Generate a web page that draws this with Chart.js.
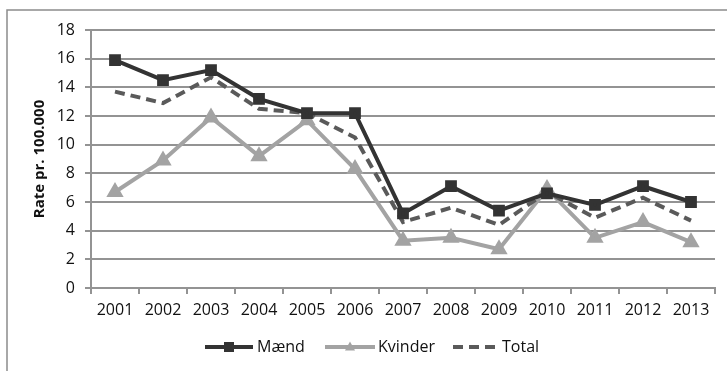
<!DOCTYPE html>
<html>
<head>
<meta charset="utf-8">
<script src="https://cdn.jsdelivr.net/npm/chart.js@4/dist/chart.umd.min.js"></script>
<style>
  html, body { margin: 0; padding: 0; background: #fff; }
  #wrap { position: relative; width: 727px; height: 371px; }
  canvas { display: block; }
</style>
</head>
<body>
<div id="wrap"><canvas id="c" width="727" height="371"></canvas></div>
<script>
// Rate per 100.000 by year
const years = ['2001','2002','2003','2004','2005','2006','2007','2008','2009','2010','2011','2012','2013'];
const maend   = [15.9, 14.5, 15.2, 13.2, 12.2, 12.2, 5.2, 7.1, 5.4, 6.6, 5.8, 7.1, 6.0];
const kvinder = [6.7, 8.9, 11.9, 9.2, 11.7, 8.3, 3.3, 3.5, 2.7, 6.9, 3.5, 4.6, 3.2];
const total   = [13.7, 12.9, 14.7, 12.5, 12.2, 10.5, 4.6, 5.6, 4.4, 6.7, 4.9, 6.3, 4.7];
const yTicks  = [0, 2, 4, 6, 8, 10, 12, 14, 16, 18];

const FONT = "'Open Sans', 'DejaVu Sans', sans-serif";
const TEXT = '#111111';
const GRID = '#939393';

// outer frame: top and left border lines
const framePlugin = {
  id: 'frame',
  beforeDraw(chart) {
    const ctx = chart.ctx;
    ctx.save();
    ctx.strokeStyle = '#8c8c8c';
    ctx.lineWidth = 1.5;
    ctx.beginPath();
    ctx.moveTo(7, 371);
    ctx.lineTo(7, 10);
    ctx.lineTo(727, 10);
    ctx.stroke();
    ctx.restore();
  }
};

// legend row: line sample with marker, then label
const legendPlugin = {
  id: 'lineLegend',
  afterDraw(chart) {
    const ctx = chart.ctx;
    const y = 347;
    const items = [
      { ds: 0, x0: 205, x1: 253, tx: 257, r: 5 },
      { ds: 1, x0: 325, x1: 375, tx: 378, r: 5 },
      { ds: 2, x0: 453, x1: 496, tx: 502, r: 0 }
    ];
    ctx.save();
    items.forEach(it => {
      const d = chart.data.datasets[it.ds];
      ctx.strokeStyle = d.borderColor;
      ctx.lineWidth = d.borderWidth;
      ctx.setLineDash(d.borderDash || []);
      ctx.beginPath();
      ctx.moveTo(it.x0, y);
      ctx.lineTo(it.x1, y);
      ctx.stroke();
      ctx.setLineDash([]);
      if (it.r > 0) {
        const cx = (it.x0 + it.x1) / 2;
        const r = it.r;
        ctx.fillStyle = d.pointBackgroundColor;
        ctx.beginPath();
        if (d.pointStyle === 'rect') {
          ctx.rect(cx - r, y - r, 2 * r, 2 * r);
        } else {
          ctx.moveTo(cx, y - r * 1.1);
          ctx.lineTo(cx + r, y + r * 0.7);
          ctx.lineTo(cx - r, y + r * 0.7);
          ctx.closePath();
        }
        ctx.fill();
      }
      ctx.fillStyle = TEXT;
      ctx.font = '16px ' + FONT;
      ctx.textBaseline = 'middle';
      ctx.textAlign = 'left';
      ctx.fillText(d.label, it.tx, y);
    });
    ctx.restore();
  }
};

new Chart(document.getElementById('c'), {
  type: 'line',
  data: {
    labels: years,
    datasets: [
      {
        label: 'Mænd', data: maend,
        borderColor: '#333333', backgroundColor: '#333333',
        pointBackgroundColor: '#333333', pointBorderColor: '#333333',
        borderWidth: 4, pointStyle: 'rect', pointRadius: 5.5, pointHoverRadius: 5.5,
        tension: 0, order: 1
      },
      {
        label: 'Kvinder', data: kvinder,
        borderColor: '#a3a3a3', backgroundColor: '#a3a3a3',
        pointBackgroundColor: '#a3a3a3', pointBorderColor: '#a3a3a3',
        borderWidth: 4, pointStyle: 'triangle', pointRadius: 6, pointHoverRadius: 6,
        tension: 0, order: 3
      },
      {
        label: 'Total', data: total,
        borderColor: '#5a5a5a', backgroundColor: '#5a5a5a',
        borderWidth: 4, borderDash: [10, 6], pointRadius: 0, pointHoverRadius: 0,
        tension: 0, order: 2
      }
    ]
  },
  options: {
    responsive: false,
    animation: false,
    events: [],
    layout: { padding: { top: 30, right: 12, left: 0, bottom: 0 } },
    plugins: { legend: { display: false }, tooltip: { enabled: false } },
    scales: {
      x: {
        offset: true,
        grid: { offset: true, drawOnChartArea: false, drawTicks: true, tickLength: 6, color: GRID, lineWidth: 2 },
        border: { color: GRID, width: 2 },
        ticks: { color: TEXT, font: { family: FONT, size: 16 }, padding: 7, maxRotation: 0 },
        afterFit(s) { s.height = 83; }
      },
      y: {
        min: 0, max: 18,
        afterBuildTicks(s) { s.ticks = yTicks.map(v => ({ value: v })); },
        grid: { color: GRID, lineWidth: 2, tickLength: 6 },
        border: { color: GRID, width: 2 },
        ticks: { color: TEXT, font: { family: FONT, size: 16 }, padding: 10 },
        title: {
          display: true, text: 'Rate pr. 100.000', color: TEXT,
          font: { family: FONT, size: 15, weight: 'bold' },
          padding: { top: 31, bottom: 0 }
        },
        afterFit(s) { s.width = 91; }
      }
    }
  },
  plugins: [framePlugin, legendPlugin]
});
</script>
</body>
</html>
